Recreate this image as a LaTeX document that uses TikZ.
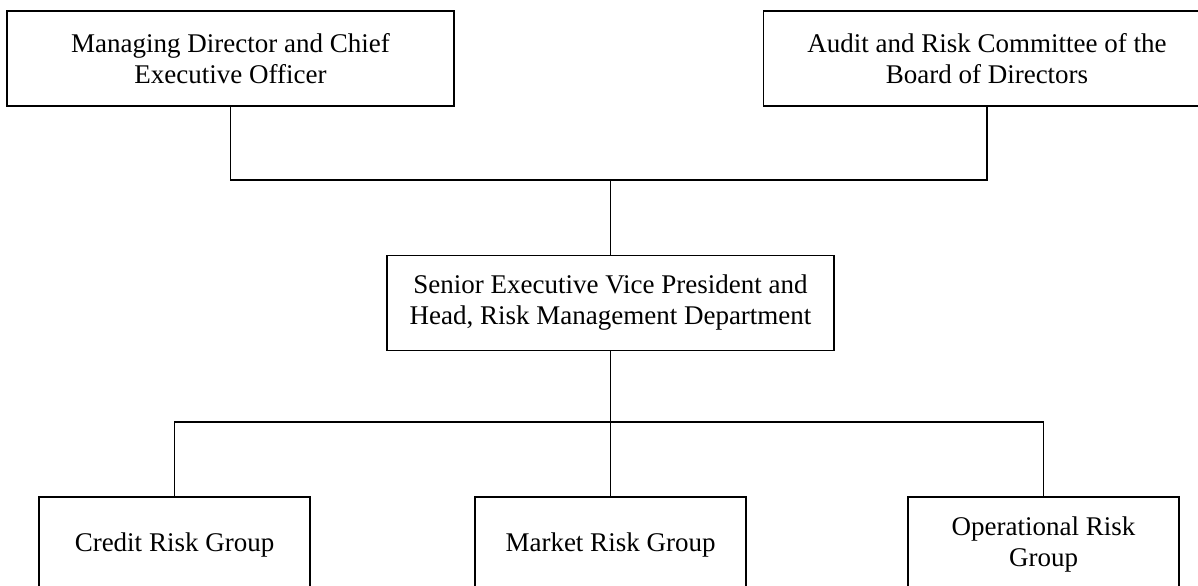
\documentclass[tikz,border=0pt]{standalone}
\usepackage{fontspec}
\setmainfont{Liberation Serif}
\begin{document}
\begin{tikzpicture}[x=0.5pt,y=-0.5pt,
  orgbox/.style={draw, line width=0.6pt, rectangle, align=center, inner sep=0pt,
    font=\fontsize{13.5}{15.5}\selectfont, minimum height=47.5pt},
  widebox/.style={orgbox, minimum width=223.5pt},
  smallbox/.style={orgbox, minimum width=135.5pt},
  link/.style={line width=0.6pt}]
\useasboundingbox (0,0) rectangle (1198,585);
\clip (0,0) rectangle (1198,585);
\node[widebox] (mdceo) at (230.5,58.5) {Managing Director and Chief\\Executive Officer};
\node[widebox] (audit) at (987,58.5) {Audit and Risk Committee of the\\Board of Directors};
\node[widebox] (senior) at (610.5,303) {Senior Executive Vice President and\\Head, Risk Management Department};
\node[smallbox] (credit) at (174.5,544.5) {Credit Risk Group};
\node[smallbox] (market) at (610.5,544.5) {Market Risk Group};
\node[smallbox] (oper) at (1043.5,544.5) {Operational Risk\\Group};
\coordinate (top) at (610.5,180);
\coordinate (bot) at (610.5,422);
\draw[link] (mdceo.south) |- (top) -| (audit.south);
\draw[link] (top) -- (senior.north);
\draw[link] (senior.south) -- (bot);
\draw[link] (credit.north) |- (bot) -| (oper.north);
\draw[link] (bot) -- (market.north);
\end{tikzpicture}
\end{document}
